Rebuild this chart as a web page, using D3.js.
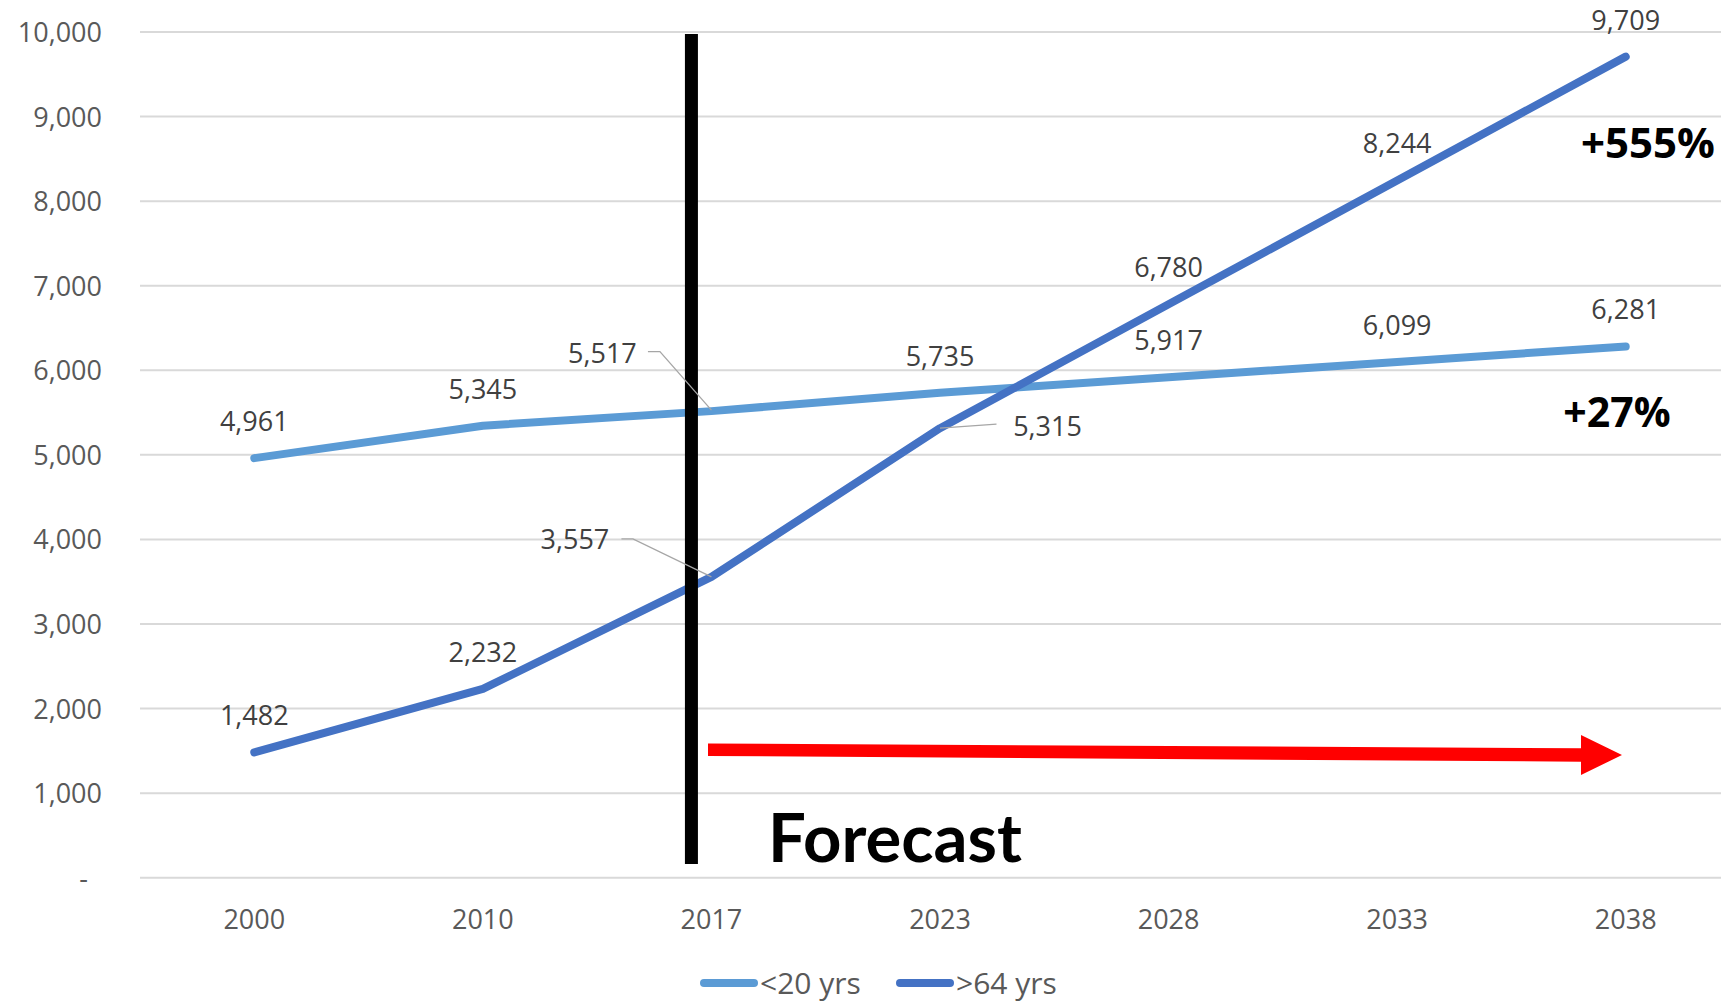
<!DOCTYPE html>
<html>
<head>
<meta charset="utf-8">
<script src="https://cdn.jsdelivr.net/npm/d3@7"></script>
<style>
  html, body { margin: 0; padding: 0; background: #fff; overflow: hidden; }
  svg { display: block; }
</style>
</head>
<body>
<svg id="chart" width="1721" height="1003"></svg>
<script>
// ---- data ----
const categories = ["2000", "2010", "2017", "2023", "2028", "2033", "2038"];
const under20 = [4961, 5345, 5517, 5735, 5917, 6099, 6281];
const over64 = [1482, 2232, 3557, 5315, 6780, 8244, 9709];
const seriesNames = ["<20 yrs", ">64 yrs"];
const yTicks = [0, 1000, 2000, 3000, 4000, 5000, 6000, 7000, 8000, 9000, 10000];
const growthLabels = ["+555%", "+27%"];
const forecastLabel = "Forecast";

const colors = ["#5B9BD5", "#4472C4"];
const svg = d3.select("#chart");
const font = "'Open Sans', 'Noto Sans', sans-serif";

const x = d3.scaleBand().domain(categories).range([140, 1740]).padding(0);
const xc = c => x(c) + x.bandwidth() / 2;
const y = d3.scaleLinear().domain([0, 10000]).range([877.7, 32]);
const fmt = d3.format(",");

// gridlines
svg.append("g").selectAll("line").data(yTicks).join("line")
  .attr("x1", 140).attr("x2", 1740)
  .attr("y1", d => y(d)).attr("y2", d => y(d))
  .attr("stroke", "#d9d9d9").attr("stroke-width", 2);

// y axis labels
const yAxis = d3.axisLeft(y).tickValues(yTicks).tickSize(0).tickPadding(0)
  .tickFormat(d => d === 0 ? "-" : fmt(d));
const yg = svg.append("g").attr("transform", "translate(102,0)").call(yAxis);
yg.select(".domain").remove();
yg.selectAll("text").attr("font-family", font).attr("font-size", 27)
  .attr("fill", "#595959").attr("dy", "0.35em")
  .attr("dx", d => d === 0 ? -14 : 0);

// x axis labels
const xAxis = d3.axisBottom(x).tickSize(0).tickPadding(0);
const xg = svg.append("g").attr("transform", "translate(0,929)").call(xAxis);
xg.select(".domain").remove();
xg.selectAll("text").attr("font-family", font).attr("font-size", 27)
  .attr("fill", "#595959").attr("dy", 0);

// lines
const lineGen = d3.line().x((d, i) => xc(categories[i])).y(d => y(d));
[under20, over64].forEach((s, k) => {
  svg.append("path").datum(s)
    .attr("d", lineGen)
    .attr("fill", "none").attr("stroke", colors[k]).attr("stroke-width", 8)
    .attr("stroke-linecap", "round").attr("stroke-linejoin", "round");
});

// forecast vertical line
const vx = xc("2017") - 20;
svg.append("line").attr("x1", vx).attr("x2", vx).attr("y1", y(10000) + 2).attr("y2", 864)
  .attr("stroke", "#000").attr("stroke-width", 13);

// data labels
function labelLayer(series, special) {
  series.forEach((v, i) => {
    const c = categories[i];
    const px = xc(c), py = y(v);
    const sp = special[c];
    let lx = px, ly = py - 36.5;
    if (sp) {
      lx = px + sp.dx; ly = py + sp.dy;
      svg.append("polyline")
        .attr("points", sp.leader.map(p => [px + p[0], py + p[1]].join(",")).join(" "))
        .attr("fill", "none").attr("stroke", "#a6a6a6").attr("stroke-width", 1.3);
    }
    svg.append("text").attr("x", lx).attr("y", ly)
      .attr("text-anchor", "middle").attr("dy", "0.35em")
      .attr("font-family", font).attr("font-size", 27).attr("fill", "#404040")
      .text(fmt(v));
  });
}
labelLayer(under20, {
  "2017": { dx: -109, dy: -58, leader: [[-63.5, -59.5], [-51.5, -59.5], [0, -1]] }
});
labelLayer(over64, {
  "2017": { dx: -136.5, dy: -37, leader: [[-90, -38], [-78.5, -38], [0, 0]] },
  "2023": { dx: 107.5, dy: -1.5, leader: [[0, 0], [56.5, -4]] }
});

// growth annotations
svg.append("text").attr("x", 1648).attr("y", 158).attr("text-anchor", "middle")
  .attr("font-family", font).attr("font-weight", 700).attr("font-size", 42)
  .attr("fill", "#000").text(growthLabels[0]);
svg.append("text").attr("x", 1617).attr("y", 427).attr("text-anchor", "middle")
  .attr("font-family", font).attr("font-weight", 700).attr("font-size", 41)
  .attr("fill", "#000").text(growthLabels[1]);

// red arrow
const ax0 = 708, axHead = 1581, axTip = 1622;
const arrowPts = [
  [ax0, 743.5], [axHead, 748.3], [axHead, 735], [axTip, 755],
  [axHead, 775], [axHead, 761.7], [ax0, 756]
];
svg.append("path").attr("d", d3.line()(arrowPts) + "Z").attr("fill", "#ff0000");

// forecast label
svg.append("text").attr("x", 768).attr("y", 862)
  .attr("font-family", "Lato, 'Open Sans', sans-serif").attr("font-weight", 700)
  .attr("font-size", 67).attr("fill", "#000").text(forecastLabel);

// legend
const legend = [{ name: seriesNames[0], x: 704 }, { name: seriesNames[1], x: 900 }];
legend.forEach((l, k) => {
  svg.append("line").attr("x1", l.x).attr("x2", l.x + 50).attr("y1", 983).attr("y2", 983)
    .attr("stroke", colors[k]).attr("stroke-width", 8).attr("stroke-linecap", "round");
  svg.append("text").attr("x", l.x + 56).attr("y", 983).attr("dy", "0.35em")
    .attr("font-family", font).attr("font-size", 30).attr("fill", "#595959").text(l.name);
});
</script>
</body>
</html>
